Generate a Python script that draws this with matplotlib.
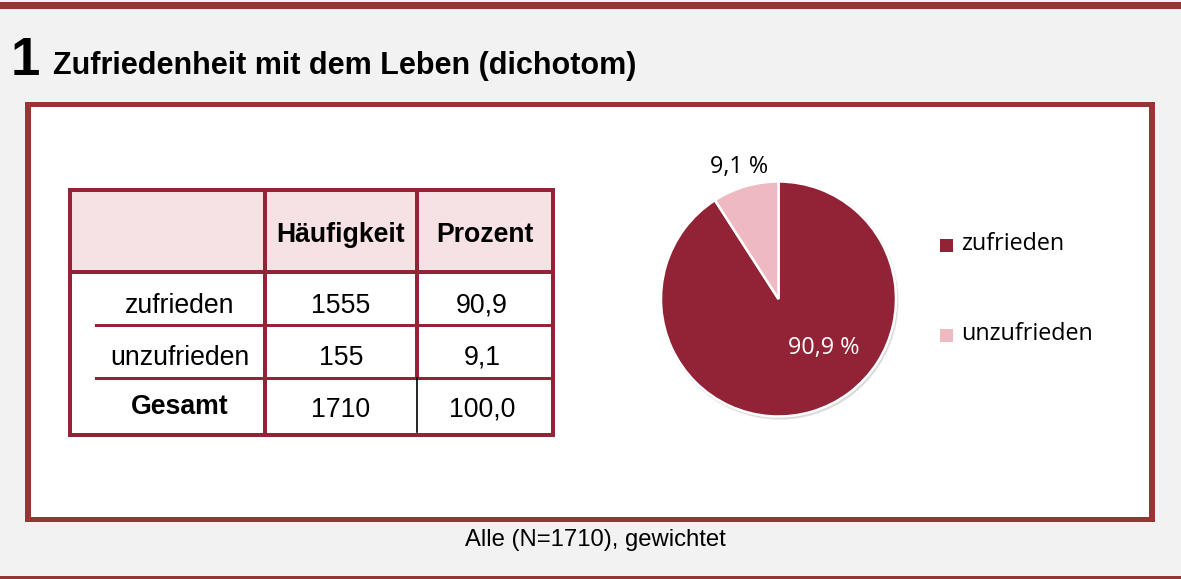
import numpy as np
import matplotlib
matplotlib.use("Agg")
import matplotlib.pyplot as plt
from matplotlib.patches import Rectangle, Circle

# data
kategorien = ["zufrieden", "unzufrieden"]
haeufigkeit = [1555, 155]
prozent = [90.9, 9.1]
gesamt_n = 1710
gesamt_p = 100.0
spalten = ["Häufigkeit", "Prozent"]

titel_nr = "1"
titel = "Zufriedenheit mit dem Leben (dichotom)"
fussnote = "Alle (N=1710), gewichtet"

# colors
bg_col = "#f2f2f2"
frame_col = "#963634"
tab_col = "#952338"
head_fill = "#f6e1e4"
farben = ["#922235", "#efb9c2"]

W, H = 1181, 579
fig = plt.figure(figsize=(W / 100, H / 100), dpi=100, facecolor=bg_col)

# pixel axes for frames, title, table
ax = fig.add_axes([0, 0, 1, 1])
ax.set_xlim(0, W)
ax.set_ylim(H, 0)
ax.axis("off")

def rect(x0, y0, x1, y1, col, z=1):
    ax.add_patch(Rectangle((x0, y0), x1 - x0, y1 - y0, facecolor=col,
                           edgecolor="none", zorder=z))

# top / bottom bars
rect(0, 2, W, 9, frame_col)
rect(0, 576, W, 579, frame_col)

# white box with frame
rect(25, 102, 1155, 522, frame_col)
rect(31, 107, 1149, 517, "white")

# title
sans = "Liberation Sans"
ax.text(11, 75, titel_nr, fontsize=38, fontweight="bold", family=sans,
        va="baseline", ha="left")
ax.text(53, 74, titel, fontsize=22, fontweight="bold", family=sans,
        va="baseline", ha="left")

# footer
ax.text(595, 546, fussnote, fontsize=17.2, family=sans, va="baseline",
        ha="center")

# table geometry
tx = [70, 265, 417, 553]
ty = [190, 272, 325, 378, 435]

# header fill
rect(tx[0], ty[0], tx[3], ty[1], head_fill, z=2)

# outer border
for (x0, y0, x1, y1) in [(tx[0] - 2, ty[0] - 2, tx[3] + 2, ty[0] + 2),
                         (tx[0] - 2, ty[4] - 2, tx[3] + 2, ty[4] + 2),
                         (tx[0] - 2, ty[0] - 2, tx[0] + 2, ty[4] + 2),
                         (tx[3] - 2, ty[0] - 2, tx[3] + 2, ty[4] + 2)]:
    rect(x0, y0, x1, y1, tab_col, z=4)

# header separator
rect(tx[0], ty[1] - 2, tx[3], ty[1] + 2, tab_col, z=4)
# row separators (indented)
for y in ty[2:4]:
    rect(95, y - 1.5, tx[3], y + 1.5, tab_col, z=4)
# vertical dividers
rect(tx[1] - 2, ty[0], tx[1] + 2, ty[4], tab_col, z=4)
rect(tx[2] - 2, ty[0], tx[2] + 2, ty[3], tab_col, z=4)
ax.plot([tx[2], tx[2]], [ty[3], ty[4] - 3], color="black", lw=1.2, zorder=4)

fs_tab = 19.2
cx = [(tx[i] + tx[i + 1]) / 2 for i in range(3)]
# header labels
for c, s in zip(cx[1:], spalten):
    ax.text(c, 242, s, fontsize=fs_tab, fontweight="bold", family=sans,
            ha="center", va="baseline", zorder=5)
# body rows
baselines = [313, 365]
for bl, k, n, p in zip(baselines, kategorien, haeufigkeit, prozent):
    ax.text(180, bl, k, fontsize=fs_tab, family=sans, ha="center",
            va="baseline", zorder=5)
    ax.text(cx[1], bl, f"{n}", fontsize=fs_tab, family=sans, ha="center",
            va="baseline", zorder=5)
    ax.text(cx[2] - 3, bl, f"{p:.1f}".replace(".", ","), fontsize=fs_tab,
            family=sans, ha="center", va="baseline", zorder=5)
ax.text(180, 414, "Gesamt", fontsize=fs_tab, fontweight="bold", family=sans,
        ha="center", va="baseline", zorder=5)
ax.text(cx[1], 417, f"{gesamt_n}", fontsize=fs_tab, family=sans,
        ha="center", va="baseline", zorder=5)
ax.text(cx[2] - 3, 417, f"{gesamt_p:.1f}".replace(".", ","), fontsize=fs_tab,
        family=sans, ha="center", va="baseline", zorder=5)

# pie
pcx, pcy, r = 778.5, 299, 117.5
span = 2.6 * r
pax = fig.add_axes([(pcx - span / 2) / W, (H - pcy - span / 2) / H,
                    span / W, span / H])
# soft shadow
for i, a in enumerate([0.04, 0.05, 0.06]):
    pax.add_patch(Circle((0.008 + 0.004 * i, -0.014 - 0.004 * i), 1.0 + 0.008 * (2 - i),
                         facecolor="black", alpha=a, edgecolor="none", zorder=0))
wedges, _ = pax.pie(prozent, colors=farben, startangle=90, counterclock=False,
                    radius=1.0,
                    wedgeprops=dict(edgecolor="white", linewidth=1.8, zorder=1))
pax.set_xlim(-1.3, 1.3)
pax.set_ylim(-1.3, 1.3)
pax.set_aspect("equal")
pax.axis("off")

lab = "Open Sans"
fs_lab = 16.8
# label of small slice, outside at mid angle
w = wedges[1]
mid = np.deg2rad((w.theta1 + w.theta2) / 2)
pax.text(1.18 * np.cos(mid), 1.18 * np.sin(mid) - 0.01,
         f"{prozent[1]:.1f} %".replace(".", ","), fontsize=fs_lab, family=lab,
         ha="center", va="center", color="black")
# label of big slice
ang = np.deg2rad(-46)
pax.text(0.55 * np.cos(ang), 0.55 * np.sin(ang) - 0.02,
         f"{prozent[0]:.1f} %".replace(".", ","), fontsize=fs_lab, family=lab,
         ha="center", va="center", color="white")

# legend
leg_y = [245.5, 335]
for y, k, col in zip(leg_y, kategorien, farben):
    rect(940, y - 6.5, 953, y + 6.5, col, z=3)
    ax.text(961, y - 1, k, fontsize=fs_lab, family=lab, ha="left", va="center")

fig.savefig("out.png", dpi=100, facecolor=bg_col)
